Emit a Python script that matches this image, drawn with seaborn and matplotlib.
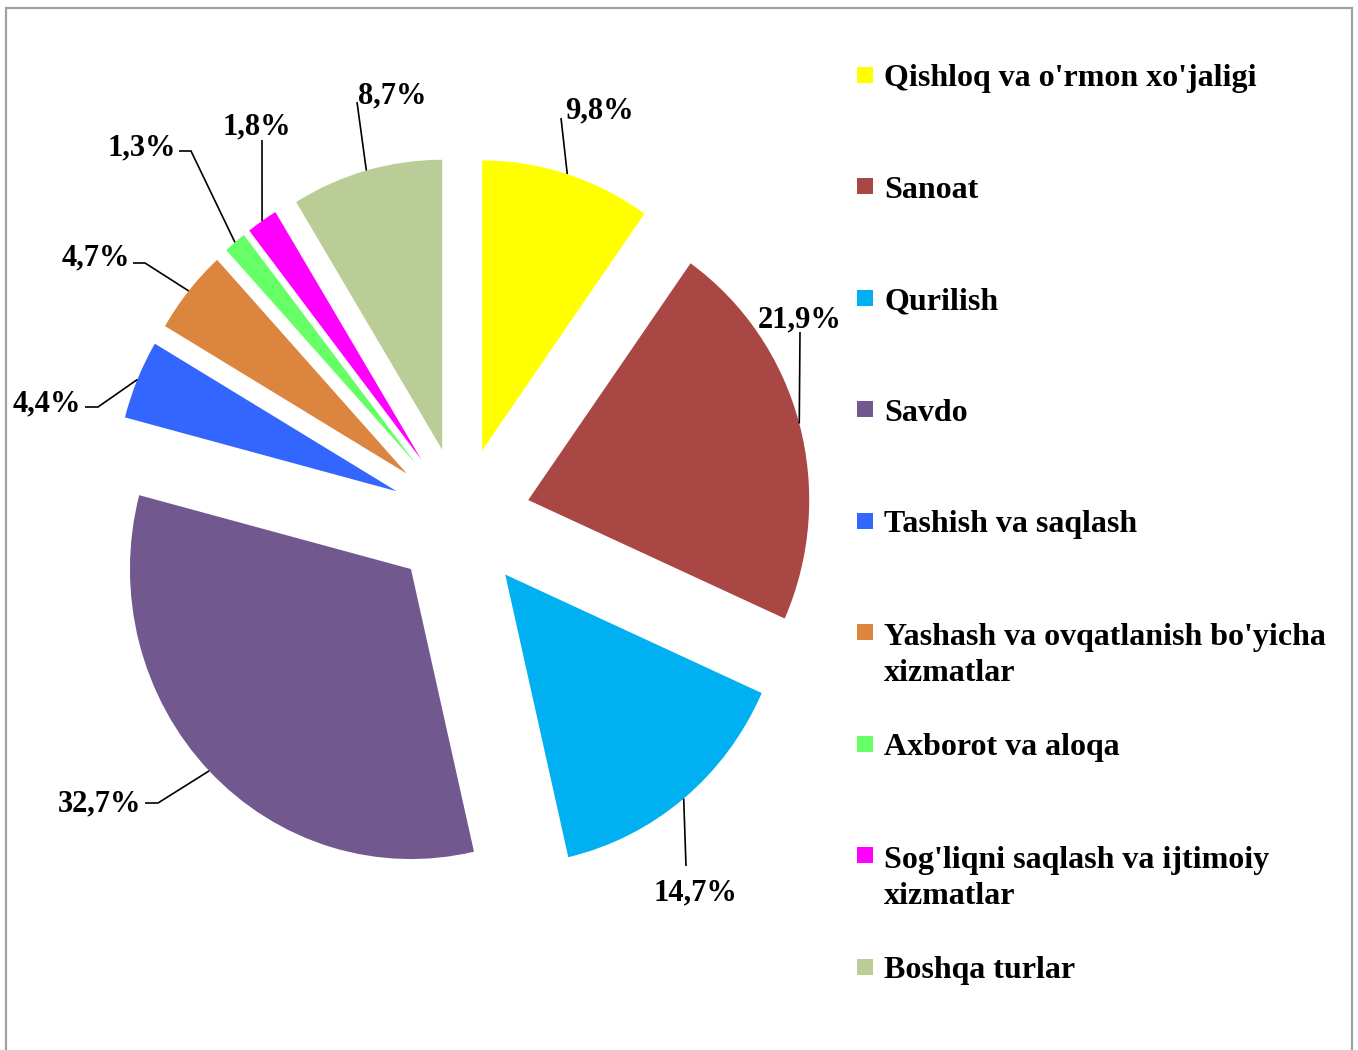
import numpy as np
import matplotlib
matplotlib.use("Agg")
import matplotlib.pyplot as plt
from matplotlib.patches import Rectangle
import seaborn as sns

# Data
sectors = ["Qishloq va o'rmon xo'jaligi", "Sanoat", "Qurilish", "Savdo",
           "Tashish va saqlash", "Yashash va ovqatlanish bo'yicha\nxizmatlar",
           "Axborot va aloqa", "Sog'liqni saqlash va ijtimoiy\nxizmatlar",
           "Boshqa turlar"]
shares = [9.8, 21.9, 14.7, 32.7, 4.4, 4.7, 1.3, 1.8, 8.7]
colors = ["#FFFF00", "#A94744", "#00B0F0", "#71588F", "#3366FF",
          "#DC853E", "#66FF66", "#FF00FF", "#BBCD97"]

# Styling
sns.set_style("white")
plt.rcParams["font.family"] = ["Liberation Serif", "DejaVu Serif"]
plt.rcParams["font.weight"] = "bold"

W, H = 1358, 1050
CX, CY, SX, SY = 461, 519, 281, 290   # pie centre and scale in picture pixels


def P(x, y):
    # reference pixel -> data coords
    return (x - CX) / SX, (CY - y) / SY


# label text position (centre x, baseline y) and leader line start points, in pixels
label_pos = [(599, 118), (800, 327), (695, 900), (100, 811), (47, 411),
             (96, 265), (142, 155), (257, 134), (392, 103)]
leader_pts = [[(561, 118)], [(800, 332)], [(686, 866)],
              [(145, 803), (158, 803)], [(85, 407), (98, 407)],
              [(133, 263), (145, 263)], [(179, 151), (191, 151)],
              [(262, 140)], [(357, 102)]]

fig = plt.figure(figsize=(W / 100, H / 100), dpi=100)
ax = fig.add_axes([0, 0, 1, 1])

wedges, _ = ax.pie(shares, colors=sns.color_palette(colors), startangle=90,
                   counterclock=False, explode=[0.248] * len(shares),
                   wedgeprops=dict(linewidth=0))
ax.set_aspect("auto")
ax.set_xlim(P(0, 0)[0], P(W, 0)[0])
ax.set_ylim(P(0, H)[1], P(0, 0)[1])
ax.axis("off")

# percentage labels with leader lines
for w, val, lp, pts in zip(wedges, shares, label_pos, leader_pts):
    th = np.deg2rad((w.theta1 + w.theta2) / 2)
    cx, cy = w.center
    end = (cx + w.r * np.cos(th), cy + w.r * np.sin(th))
    line = [P(*p) for p in pts] + [end]
    xs, ys = zip(*line)
    ax.plot(xs, ys, color="black", lw=1.2, solid_capstyle="butt")
    tx, ty = P(*lp)
    ax.text(tx, ty, f"{val:.1f}%".replace(".", ","), ha="center", va="baseline",
            fontsize=22, fontweight="bold", color="black")

# legend drawn by hand (fixed row spacing like the original)
for i, (name, col) in enumerate(zip(sectors, colors)):
    yc = 75 + 111.5 * i
    x0, y0 = P(857, yc + 8)
    ax.add_patch(Rectangle((x0, y0), 16 / SX, 16 / SY, facecolor=col, lw=0))
    extra = 37 * name.count("\n")   # baseline sits on the last line
    tx, ty = P(884, yc + 11.5 + extra)
    ax.text(tx, ty, name, ha="left", va="baseline", fontsize=23,
            fontweight="bold", color="black", linespacing=1.32)

# outer frame
fig.patches.append(Rectangle((6 / W, -0.05), (1352 - 6) / W, (H - 8) / H + 0.05,
                             transform=fig.transFigure, fill=False,
                             edgecolor="#A0A0A0", lw=1.6))

fig.savefig("out.png", dpi=100)
